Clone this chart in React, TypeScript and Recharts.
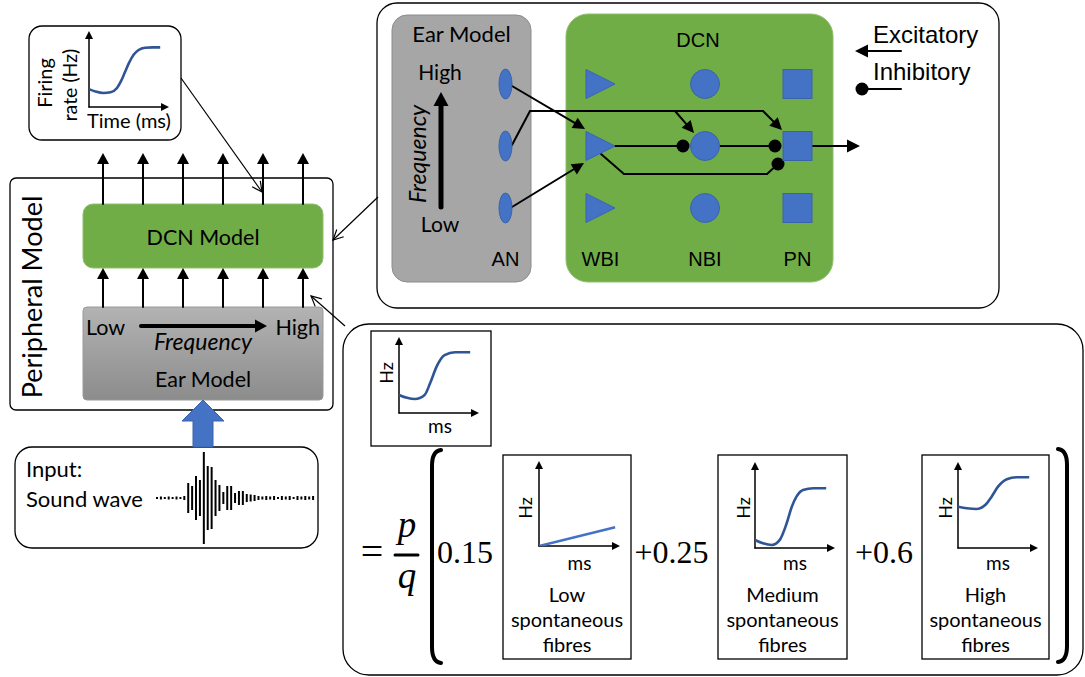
import {
  ComposedChart,
  LineChart,
  BarChart,
  Line,
  Bar,
  XAxis,
  YAxis,
  ReferenceArea,
  ReferenceLine,
  ReferenceDot,
} from "recharts";

const W = 1085;
const H = 677;

// firing-rate curves (t and rate in % of that plot's axes)
const firingCurve = [
  { t: 0, rate: 23.5 }, { t: 8, rate: 20.5 }, { t: 18, rate: 18.5 }, { t: 27, rate: 19.5 },
  { t: 35, rate: 25 }, { t: 40, rate: 34 }, { t: 45, rate: 46 }, { t: 50, rate: 58 },
  { t: 56, rate: 69 }, { t: 62, rate: 75 }, { t: 70, rate: 78 }, { t: 80, rate: 78.5 }, { t: 89, rate: 78.5 },
];
const summedCurve = [
  { t: 0, rate: 23.7 }, { t: 10, rate: 20 }, { t: 20, rate: 18.4 }, { t: 32, rate: 23.7 },
  { t: 39, rate: 39.5 }, { t: 47, rate: 61 }, { t: 57, rate: 76 }, { t: 70, rate: 80 }, { t: 89, rate: 80 },
];
const lowSpontCurve = [{ t: 0, rate: 0 }, { t: 94, rate: 22 }];
const mediumSpontCurve = [
  { t: 0, rate: 9.3 }, { t: 10, rate: 5.5 }, { t: 21, rate: 3.5 }, { t: 31, rate: 9.5 },
  { t: 39.5, rate: 28.5 }, { t: 46, rate: 48 }, { t: 52, rate: 60 }, { t: 60, rate: 67.5 },
  { t: 73, rate: 69.5 }, { t: 89, rate: 69.5 },
];
const highSpontCurve = [
  { t: 0, rate: 48 }, { t: 11, rate: 46.2 }, { t: 23, rate: 45.3 }, { t: 34, rate: 50 },
  { t: 42, rate: 59.7 }, { t: 50, rate: 71.3 }, { t: 61, rate: 80 }, { t: 73, rate: 82.3 }, { t: 89, rate: 82.3 },
];

const fibreWeights = ["0.15", "+0.25", "+0.6"];
const fibreNames = ["Low", "Medium", "High"];
const neuronTypes = ["WBI", "NBI", "PN"];
const anLevels = ["High", "Low"];

// half-height of each bar of the sound-wave icon
const soundWave = [
  1, 1.5, 1, 1.5, 1, 1.5, 1, 2, 15, 12, 22, 18, 46, 32, 31, 18, 13, 6, 12, 12, 5,
  7, 7, 4, 3.5, 3, 2, 1.5, 2, 1.5, 2, 1, 2, 1.5, 2, 1, 2, 1.5, 2, 1.5, 2,
];

// ---- styles / layout ----
const CAL = "Lato, 'Open Sans', sans-serif";
const ARI = "'Liberation Sans', Arial, sans-serif";
const SER = "'Liberation Serif', 'DejaVu Serif', serif";
const GREEN = "#70AD47";
const BLUE = "#4472C4";
const BLUE_DARK = "#2F5597";

type Box = {
  x1: number; y1: number; x2: number; y2: number; r: number;
  fill: string; stroke: string; sw: number; grad?: [string, string];
};

const boxes: Box[] = [
  { x1: 29, y1: 26, x2: 181, y2: 140, r: 13, fill: "#fff", stroke: "#000", sw: 1.3 },
  { x1: 10, y1: 178, x2: 333, y2: 410, r: 6, fill: "#fff", stroke: "#000", sw: 1.3 },
  { x1: 83, y1: 204, x2: 323, y2: 268, r: 10, fill: GREEN, stroke: "#8fbf6f", sw: 1 },
  { x1: 83, y1: 307, x2: 323, y2: 400, r: 4, fill: "#aaa", stroke: "#9a9a9a", sw: 1, grad: ["#b3b3b3", "#8c8c8c"] },
  { x1: 15, y1: 447, x2: 318, y2: 548, r: 17, fill: "#fff", stroke: "#000", sw: 1.3 },
  { x1: 377, y1: 3, x2: 999, y2: 308, r: 20, fill: "#fff", stroke: "#000", sw: 1.3 },
  { x1: 392, y1: 15, x2: 531, y2: 282, r: 15, fill: "#a6a6a6", stroke: "#8c8c8c", sw: 1 },
  { x1: 566, y1: 14, x2: 833, y2: 282, r: 22, fill: GREEN, stroke: "#8fbf6f", sw: 1 },
  { x1: 343, y1: 324, x2: 1083, y2: 675, r: 26, fill: "#fff", stroke: "#000", sw: 1.3 },
  { x1: 371, y1: 331, x2: 491, y2: 446, r: 0, fill: "#fff", stroke: "#000", sw: 1.3 },
  { x1: 503, y1: 455, x2: 631, y2: 659, r: 0, fill: "#fff", stroke: "#000", sw: 1.3 },
  { x1: 718, y1: 455, x2: 847, y2: 659, r: 0, fill: "#fff", stroke: "#000", sw: 1.3 },
  { x1: 922, y1: 455, x2: 1049, y2: 659, r: 0, fill: "#fff", stroke: "#000", sw: 1.3 },
];

type End = "arrow" | "open" | "dot" | "none";
type Wire = { pts: [number, number][]; end: End; sw: number; hl: number; hw: number };

const channelX = [103, 143, 183, 223, 263, 303];
const rowY = [84, 146, 208];
const colX = { an: 505.5, wbi: 600.5, nbi: 705, pn: 797.5 };

const wires: Wire[] = [
  ...channelX.map((x): Wire => ({ pts: [[x, 204], [x, 153]], end: "arrow", sw: 2, hl: 11, hw: 6 })),
  ...channelX.map((x): Wire => ({ pts: [[x, 307], [x, 268]], end: "arrow", sw: 2, hl: 11, hw: 6 })),
  { pts: [[141, 326], [267, 326]], end: "arrow", sw: 4, hl: 12, hw: 6.5 },
  { pts: [[181, 78], [262, 192]], end: "open", sw: 1.2, hl: 10, hw: 5 },
  { pts: [[378, 197], [333, 240]], end: "open", sw: 1.2, hl: 10, hw: 5 },
  { pts: [[345, 326], [311, 296]], end: "open", sw: 1.2, hl: 10, hw: 5 },
  { pts: [[441, 207], [441, 92]], end: "arrow", sw: 5, hl: 14, hw: 7.5 },
  { pts: [[512, 86], [585, 129]], end: "arrow", sw: 2, hl: 12, hw: 6 },
  { pts: [[512, 145], [530, 111], [763, 111], [782, 130]], end: "arrow", sw: 2, hl: 12, hw: 6 },
  { pts: [[675, 111], [694, 133]], end: "arrow", sw: 2, hl: 12, hw: 6 },
  { pts: [[512, 207], [584, 163]], end: "arrow", sw: 2, hl: 12, hw: 6 },
  { pts: [[615, 146], [683, 146]], end: "dot", sw: 2, hl: 0, hw: 6.5 },
  { pts: [[601, 154], [624, 174], [767, 174], [778, 164]], end: "dot", sw: 2, hl: 0, hw: 6.5 },
  { pts: [[720, 146], [775, 146]], end: "dot", sw: 2, hl: 0, hw: 6.5 },
  { pts: [[812, 146], [860, 146]], end: "arrow", sw: 2, hl: 13, hw: 6.5 },
  { pts: [[901, 51], [855, 51]], end: "arrow", sw: 2, hl: 13, hw: 6.5 },
  { pts: [[901, 89], [862, 89]], end: "dot", sw: 2, hl: 0, hw: 6.5 },
  { pts: [[395, 555], [418, 555]], end: "none", sw: 3, hl: 0, hw: 0 },
];

type Node = { kind: "ellipse" | "triangle" | "circle" | "square"; x: number; y: number };
const nodes: Node[] = rowY.flatMap((y): Node[] => [
  { kind: "ellipse", x: colX.an, y },
  { kind: "triangle", x: colX.wbi, y },
  { kind: "circle", x: colX.nbi, y },
  { kind: "square", x: colX.pn, y },
]);

type Lbl = {
  text: string; x: number; y: number; size: number; font?: string;
  anchor?: "start" | "middle" | "end"; italic?: boolean; rot?: number;
};

const fibreBoxCx = [567, 782.5, 985.5];
const fibreHzX = [532, 749.5, 952];
const fibreMsX = [579.5, 795, 998];
const weightX = [465, 671.5, 884];

const labels: Lbl[] = [
  { text: "Firing", x: 52, y: 83, size: 20, rot: -90 },
  { text: "rate (Hz)", x: 77, y: 85, size: 19.5, rot: -90 },
  { text: "Time (ms)", x: 129, y: 128, size: 20 },
  { text: "Peripheral Model", x: 42, y: 297, size: 27, rot: -90 },
  { text: "DCN Model", x: 203, y: 245, size: 21.5 },
  { text: "Low", x: 86, y: 335, size: 21.5, anchor: "start" },
  { text: "High", x: 320, y: 335, size: 21.5, anchor: "end" },
  { text: "Frequency", x: 203, y: 350, size: 23, italic: true },
  { text: "Ear Model", x: 203, y: 387, size: 21.5 },
  { text: "Input:", x: 26, y: 477, size: 22, anchor: "start" },
  { text: "Sound wave", x: 26, y: 507, size: 22, anchor: "start" },
  { text: "Ear Model", x: 461.5, y: 42, size: 22 },
  { text: anLevels[0], x: 440, y: 80, size: 21 },
  { text: anLevels[1], x: 440, y: 232, size: 21 },
  { text: "Frequency", x: 426, y: 154, size: 23, italic: true, rot: -90 },
  { text: "AN", x: colX.an, y: 266, size: 20, font: ARI },
  { text: "DCN", x: 698, y: 47, size: 20, font: ARI },
  { text: neuronTypes[0], x: colX.wbi, y: 266, size: 20, font: ARI },
  { text: neuronTypes[1], x: colX.nbi, y: 266, size: 20, font: ARI },
  { text: neuronTypes[2], x: colX.pn, y: 266, size: 20, font: ARI },
  { text: "Excitatory", x: 873, y: 43, size: 24, font: ARI, anchor: "start" },
  { text: "Inhibitory", x: 873, y: 80, size: 24, font: ARI, anchor: "start" },
  { text: "Hz", x: 393, y: 373, size: 18, rot: -90 },
  { text: "ms", x: 440, y: 433, size: 19 },
  { text: "=", x: 372, y: 565, size: 40, font: SER },
  { text: "p", x: 407, y: 537, size: 37, font: SER, italic: true },
  { text: "q", x: 407, y: 588, size: 37, font: SER, italic: true },
  ...fibreWeights.map((w, i): Lbl => ({ text: w, x: weightX[i], y: 563, size: 32, font: SER })),
  ...fibreNames.flatMap((n, i): Lbl[] => [
    { text: "Hz", x: fibreHzX[i], y: 508, size: 18, rot: -90 },
    { text: "ms", x: fibreMsX[i], y: 570, size: 19 },
    { text: n, x: fibreBoxCx[i], y: 602, size: 20 },
    { text: "spontaneous", x: fibreBoxCx[i], y: 627, size: 20 },
    { text: "fibres", x: fibreBoxCx[i], y: 652, size: 20 },
  ]),
];

const plots = [
  { ox: 89, oy: 107, tip: 31, end: 169, data: firingCurve, color: BLUE_DARK },
  { ox: 399, oy: 413, tip: 337, end: 479, data: summedCurve, color: BLUE_DARK },
  { ox: 539, oy: 546, tip: 461, end: 620, data: lowSpontCurve, color: BLUE },
  { ox: 755, oy: 548, tip: 462, end: 835, data: mediumSpontCurve, color: BLUE_DARK },
  { ox: 958, oy: 548, tip: 462, end: 1038, data: highSpontCurve, color: BLUE_DARK },
];

// ---- shapes ----
const boxShape = (b: Box, id: string) => (p: any) => {
  const x = Math.min(p.x, p.x + p.width);
  const y = Math.min(p.y, p.y + p.height);
  const w = Math.abs(p.width);
  const h = Math.abs(p.height);
  return (
    <g>
      {b.grad && (
        <defs>
          <linearGradient id={id} x1="0" y1="0" x2="0" y2="1">
            <stop offset="0%" stopColor={b.grad[0]} />
            <stop offset="100%" stopColor={b.grad[1]} />
          </linearGradient>
        </defs>
      )}
      <rect x={x} y={y} width={w} height={h} rx={b.r} ry={b.r}
        fill={b.grad ? `url(#${id})` : b.fill} stroke={b.stroke} strokeWidth={b.sw} />
    </g>
  );
};

const segShape = (end: End, sw: number, hl: number, hw: number) => (p: any) => {
  const { x1, y1, x2, y2 } = p;
  const len = Math.hypot(x2 - x1, y2 - y1) || 1;
  const ux = (x2 - x1) / len;
  const uy = (y2 - y1) / len;
  const bx = x2 - ux * hl;
  const by = y2 - uy * hl;
  const wings = `${bx - uy * hw},${by + ux * hw} ${x2},${y2} ${bx + uy * hw},${by - ux * hw}`;
  if (end === "arrow") {
    return (
      <g>
        <line x1={x1} y1={y1} x2={bx + ux} y2={by + uy} stroke="#000" strokeWidth={sw} strokeLinecap="round" />
        <polygon points={wings} fill="#000" />
      </g>
    );
  }
  if (end === "open") {
    return (
      <g>
        <line x1={x1} y1={y1} x2={x2} y2={y2} stroke="#000" strokeWidth={sw} />
        <polyline points={wings} fill="none" stroke="#000" strokeWidth={sw} />
      </g>
    );
  }
  if (end === "dot") {
    return (
      <g>
        <line x1={x1} y1={y1} x2={x2} y2={y2} stroke="#000" strokeWidth={sw} strokeLinecap="round" />
        <circle cx={x2} cy={y2} r={hw} fill="#000" />
      </g>
    );
  }
  return <line x1={x1} y1={y1} x2={x2} y2={y2} stroke="#000" strokeWidth={sw} strokeLinecap="round" />;
};

const nodeShape = (kind: Node["kind"]) => (p: any) => {
  const { cx, cy } = p;
  const st = { fill: BLUE, stroke: "#3a63ad", strokeWidth: 1 };
  if (kind === "ellipse") return <ellipse cx={cx} cy={cy} rx={6.5} ry={15} {...st} />;
  if (kind === "triangle")
    return <polygon points={`${cx - 14.5},${cy - 14.5} ${cx + 14.5},${cy} ${cx - 14.5},${cy + 14.5}`} {...st} />;
  if (kind === "circle") return <circle cx={cx} cy={cy} r={14.5} {...st} />;
  return <rect x={cx - 14.5} y={cy - 14.5} width={29} height={29} {...st} />;
};

const textShape = (l: Lbl) => (p: any) => (
  <text
    x={p.cx}
    y={p.cy}
    textAnchor={l.anchor ?? "middle"}
    fontFamily={l.font ?? CAL}
    fontSize={l.size}
    fontStyle={l.italic ? "italic" : "normal"}
    fill="#000"
    transform={l.rot ? `rotate(${l.rot} ${p.cx} ${p.cy})` : undefined}
  >
    {l.text}
  </text>
);

const blockArrow = (p: any) => {
  const { cx, cy } = p;
  const pts = [
    [cx, cy], [cx + 21, cy + 21], [cx + 10, cy + 21], [cx + 10, cy + 47],
    [cx - 10, cy + 47], [cx - 10, cy + 21], [cx - 21, cy + 21],
  ];
  return <polygon points={pts.map((q) => q.join(",")).join(" ")} fill={BLUE} stroke="#3a63ad" strokeWidth={1} />;
};

const bracket = (dir: number, h: number) => (p: any) => {
  const { cx, cy } = p;
  const d = `M ${cx + dir * 9} ${cy - h / 2} Q ${cx} ${cy - h / 2 + 1} ${cx} ${cy - h / 2 + 16} L ${cx} ${cy + h / 2 - 16} Q ${cx} ${cy + h / 2 - 1} ${cx + dir * 9} ${cy + h / 2}`;
  return <path d={d} fill="none" stroke="#000" strokeWidth={4} strokeLinecap="round" />;
};

function MiniPlot({ ox, oy, tip, end, data, color }: (typeof plots)[number]) {
  const m = 7;
  return (
    <div style={{ position: "absolute", left: ox - m, top: tip - m }}>
      <LineChart width={end - ox + 2 * m} height={oy - tip + 2 * m} data={data}
        margin={{ top: m, right: m, bottom: m, left: m }}>
        <XAxis type="number" dataKey="t" domain={[0, 100]} hide allowDataOverflow />
        <YAxis type="number" domain={[0, 100]} hide allowDataOverflow />
        <ReferenceLine segment={[{ x: 0, y: 0 }, { x: 0, y: 100 }]} shape={segShape("arrow", 1.5, 8, 4)} />
        <ReferenceLine segment={[{ x: 0, y: 0 }, { x: 100, y: 0 }]} shape={segShape("arrow", 1.5, 8, 4)} />
        <Line dataKey="rate" type="monotone" stroke={color} strokeWidth={2.6} dot={false} isAnimationActive={false} />
      </LineChart>
    </div>
  );
}

export default function App() {
  const frame = [{ x: 0, y: 0 }, { x: W, y: H }];
  const wave = soundWave.map((a, i) => ({ i, a }));
  return (
    <div style={{ position: "absolute", left: 0, top: 0, width: W, height: H, background: "#fff" }}>
      <ComposedChart width={W} height={H} data={frame} margin={{ top: 0, right: 0, bottom: 0, left: 0 }}>
        <XAxis type="number" dataKey="x" domain={[0, W]} hide allowDataOverflow />
        <YAxis type="number" dataKey="y" domain={[0, H]} reversed hide allowDataOverflow />
        {boxes.map((b, i) => (
          <ReferenceArea key={`b${i}`} x1={b.x1} x2={b.x2} y1={b.y1} y2={b.y2} shape={boxShape(b, `grad${i}`)} />
        ))}
        {wires.flatMap((w, wi) =>
          w.pts.slice(1).map((pt, si) => {
            const last = si === w.pts.length - 2;
            return (
              <ReferenceLine
                key={`w${wi}-${si}`}
                segment={[{ x: w.pts[si][0], y: w.pts[si][1] }, { x: pt[0], y: pt[1] }]}
                shape={segShape(last ? w.end : "none", w.sw, w.hl, w.hw)}
              />
            );
          })
        )}
        {nodes.map((n, i) => (
          <ReferenceDot key={`n${i}`} x={n.x} y={n.y} r={1} shape={nodeShape(n.kind)} />
        ))}
        <ReferenceDot x={203} y={400} r={1} shape={blockArrow} />
        <ReferenceDot x={432} y={556.5} r={1} shape={bracket(1, 213)} />
        <ReferenceDot x={1067} y={555.5} r={1} shape={bracket(-1, 213)} />
        {labels.map((l, i) => (
          <ReferenceDot key={`l${i}`} x={l.x} y={l.y} r={1} shape={textShape(l)} />
        ))}
      </ComposedChart>
      {plots.map((p, i) => (
        <MiniPlot key={i} {...p} />
      ))}
      <div style={{ position: "absolute", left: 155, top: 450 }}>
        <BarChart width={160} height={96} data={wave} margin={{ top: 0, right: 0, bottom: 0, left: 0 }} barCategoryGap={0}>
          <XAxis dataKey="i" type="category" hide />
          <YAxis type="number" domain={[-48, 48]} hide allowDataOverflow />
          <Bar dataKey={(d: any) => [-d.a, d.a]} fill="#000" barSize={2} isAnimationActive={false} />
        </BarChart>
      </div>
    </div>
  );
}
